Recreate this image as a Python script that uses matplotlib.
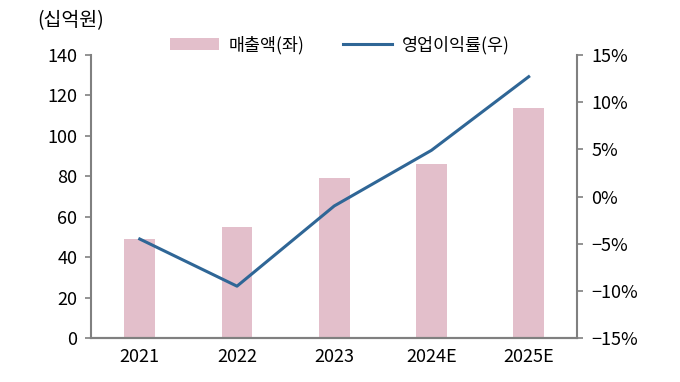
import matplotlib
matplotlib.use("Agg")
import matplotlib.pyplot as plt
import numpy as np

plt.rcParams['font.family'] = ['Noto Sans CJK KR', 'DejaVu Sans']

years = ["2021", "2022", "2023", "2024E", "2025E"]
sales = [49, 55, 79, 86, 114]          # 매출액 (십억원)
op_margin = [-4.5, -9.5, -1.0, 4.9, 12.7]  # 영업이익률 (%)

BAR_COLOR = "#e3bfcb"
LINE_COLOR = "#2f6696"
AXIS_COLOR = "#808080"

fig = plt.figure(figsize=(6.8, 3.82), dpi=100)
ax = fig.add_axes([0.134, 0.115, 0.715, 0.741])
ax2 = ax.twinx()

x = np.arange(len(years))
bars = ax.bar(x, sales, width=0.315, color=BAR_COLOR, label="매출액(좌)", zorder=1)
line, = ax2.plot(x, op_margin, color=LINE_COLOR, lw=2.2, label="영업이익률(우)", zorder=3)

ax.set_xlim(-0.5, 4.5)
ax.set_ylim(0, 140)
ax.set_yticks(range(0, 141, 20))
ax2.set_ylim(-15, 15)
ax2.set_yticks(range(-15, 16, 5))
ax2.set_yticklabels([f"{v}%".replace("-", "\u2212") for v in range(-15, 16, 5)])

ax.set_xticks(x)
ax.set_xticklabels(years)

for a in (ax, ax2):
    a.spines['top'].set_visible(False)
    for s in ('left', 'right', 'bottom'):
        a.spines[s].set_color(AXIS_COLOR)
        a.spines[s].set_linewidth(1.5)
    a.tick_params(axis='y', colors=AXIS_COLOR, labelcolor='black', length=4, width=1.2, labelsize=13)
ax.spines['right'].set_visible(False)
ax2.spines['left'].set_visible(False)
ax.tick_params(axis='x', length=0, labelsize=13, pad=7)
ax.tick_params(axis='y', pad=6)
ax2.tick_params(axis='y', pad=6)

fig.text(0.055, 0.945, "(십억원)", fontsize=14, ha='left', va='center')

fig.legend(handles=[bars, line], loc='center', bbox_to_anchor=(0.5, 0.882), ncol=2,
           frameon=False, fontsize=12.5, handlelength=2.8, handleheight=0.7,
           columnspacing=2.2, handletextpad=0.6)

fig.savefig("out.png", dpi=100)
